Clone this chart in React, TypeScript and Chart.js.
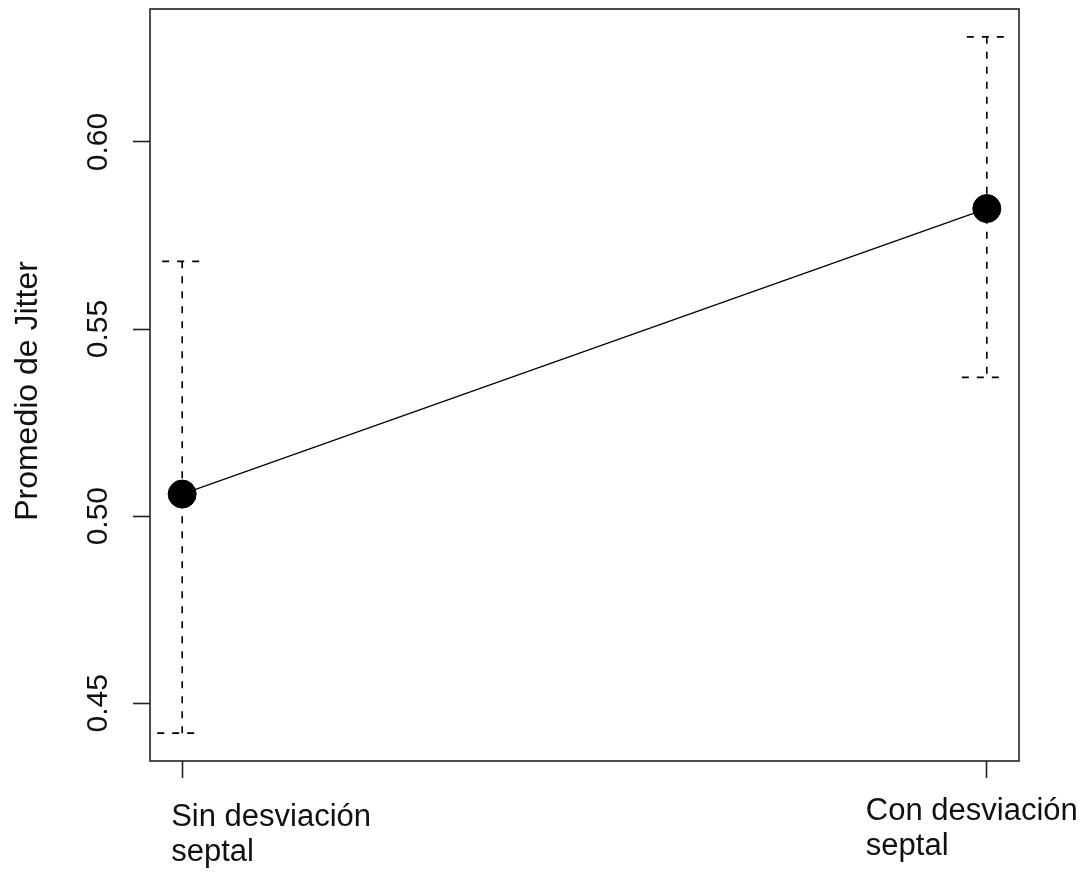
import { useEffect, useRef } from 'react';
import { Chart, registerables } from 'chart.js';

Chart.register(...registerables);

// ---- Data ----
const groupLabels: string[][] = [
  ['Sin desviación', 'septal'],
  ['Con desviación', 'septal'],
];
const groupPositions = [1, 2];
const meanJitter = [0.5059, 0.5822];
const upperBound = [0.5681, 0.6281];
const lowerBound = [0.442, 0.5371];
const yTickValues = [0.45, 0.5, 0.55, 0.6];
const yTickLabels = ['0.45', '0.50', '0.55', '0.60'];
const yAxisTitle = 'Promedio de Jitter';

// ---- Style / layout constants ----
const FONT = '"Liberation Sans", Arial, sans-serif';
const TEXT_COLOR = '#111';
const LINE_COLOR = '#222';
const X_LABEL_OFFSETS = [
  { dx: -11, dy: 0 },
  { dx: -121, dy: -6 },
];

// R-style 4% axis extension computed from the data range
function extend(lo: number, hi: number) {
  const d = (hi - lo) * 0.04;
  return [lo - d, hi + d];
}
const [yMin, yMax] = extend(Math.min(...lowerBound), Math.max(...upperBound));
const [xMin, xMax] = extend(Math.min(...groupPositions), Math.max(...groupPositions));

const errorBarPlugin = {
  id: 'errorBars',
  beforeDatasetsDraw(chart: any) {
    const { ctx, scales } = chart;
    const xs = scales.x;
    const ys = scales.y;
    ctx.save();
    ctx.strokeStyle = '#000';
    ctx.lineWidth = 1.6;
    ctx.setLineDash([7, 8]);
    groupPositions.forEach((gx, i) => {
      const px = xs.getPixelForValue(gx);
      const pTop = ys.getPixelForValue(upperBound[i]);
      const pBot = ys.getPixelForValue(lowerBound[i]);
      ctx.beginPath();
      ctx.moveTo(px, pTop);
      ctx.lineTo(px, pBot);
      ctx.stroke();
      // caps
      ctx.beginPath();
      ctx.moveTo(px - 20, pTop);
      ctx.lineTo(px + 22, pTop);
      ctx.stroke();
      ctx.beginPath();
      ctx.moveTo(px - 25, pBot);
      ctx.lineTo(px + 16, pBot);
      ctx.stroke();
    });
    ctx.restore();
  },
};

const axisTextPlugin = {
  id: 'axisText',
  afterDraw(chart: any) {
    const { ctx, scales, chartArea } = chart;
    const xs = scales.x;
    const ys = scales.y;
    ctx.save();
    // box
    ctx.strokeStyle = LINE_COLOR;
    ctx.lineWidth = 1.6;
    ctx.setLineDash([]);
    ctx.strokeRect(chartArea.left, chartArea.top, chartArea.right - chartArea.left, chartArea.bottom - chartArea.top);

    ctx.fillStyle = TEXT_COLOR;
    // y tick labels (rotated, reading upward)
    ctx.font = `30px ${FONT}`;
    ctx.textAlign = 'center';
    ctx.textBaseline = 'alphabetic';
    yTickValues.forEach((v, i) => {
      const py = ys.getPixelForValue(v);
      ctx.save();
      ctx.translate(chartArea.left - 43, py);
      ctx.rotate(-Math.PI / 2);
      ctx.fillText(yTickLabels[i], 0, 0);
      ctx.restore();
    });

    // y axis title
    ctx.font = `32px ${FONT}`;
    ctx.save();
    ctx.translate(37, (chartArea.top + chartArea.bottom) / 2 + 6);
    ctx.rotate(-Math.PI / 2);
    ctx.textAlign = 'center';
    ctx.fillText(yAxisTitle, 0, 0);
    ctx.restore();

    // x category labels (two lines, left aligned)
    ctx.font = `31px ${FONT}`;
    ctx.textAlign = 'left';
    groupPositions.forEach((gx, i) => {
      const px = xs.getPixelForValue(gx) + X_LABEL_OFFSETS[i].dx;
      const base = chartArea.bottom + 65 + X_LABEL_OFFSETS[i].dy;
      groupLabels[i].forEach((line, j) => {
        ctx.fillText(line, px, base + j * 35);
      });
    });
    ctx.restore();
  },
};

export default function App() {
  const canvasRef = useRef<HTMLCanvasElement | null>(null);

  useEffect(() => {
    const canvas = canvasRef.current;
    if (!canvas) return;
    const chart = new Chart(canvas, {
      type: 'line',
      data: {
        datasets: [
          {
            data: groupPositions.map((x, i) => ({ x, y: meanJitter[i] })),
            borderColor: '#000',
            borderWidth: 1.2,
            pointRadius: 14,
            pointHoverRadius: 14,
            pointBackgroundColor: '#000',
            pointBorderColor: '#000',
            pointBorderWidth: 1,
            fill: false,
            tension: 0,
            clip: false as any,
          },
        ],
      },
      options: {
        animation: false,
        responsive: false,
        events: [],
        layout: { autoPadding: false, padding: { left: 0, top: 9, right: 69, bottom: 0 } },
        plugins: {
          legend: { display: false },
          tooltip: { enabled: false },
          title: { display: false },
        },
        scales: {
          x: {
            type: 'linear',
            min: xMin,
            max: xMax,
            afterBuildTicks: (scale: any) => {
              scale.ticks = groupPositions.map((v) => ({ value: v }));
            },
            afterFit: (scale: any) => {
              scale.height = 112;
            },
            ticks: { display: false },
            border: { display: false },
            grid: {
              display: true,
              drawOnChartArea: false,
              drawTicks: true,
              tickLength: 17,
              tickWidth: 1.6,
              tickColor: LINE_COLOR,
            },
          },
          y: {
            type: 'linear',
            min: yMin,
            max: yMax,
            afterBuildTicks: (scale: any) => {
              scale.ticks = yTickValues.map((v) => ({ value: v }));
            },
            afterFit: (scale: any) => {
              scale.width = 150;
            },
            ticks: { display: false },
            border: { display: false },
            grid: {
              display: true,
              drawOnChartArea: false,
              drawTicks: true,
              tickLength: 17,
              tickWidth: 1.6,
              tickColor: LINE_COLOR,
            },
          },
        },
      },
      plugins: [errorBarPlugin, axisTextPlugin],
    });
    return () => chart.destroy();
  }, []);

  return (
    <div style={{ position: 'fixed', left: 0, top: 0, width: 1088, height: 873, background: '#fff' }}>
      <canvas ref={canvasRef} width={1088} height={873} style={{ width: 1088, height: 873, display: 'block' }} />
    </div>
  );
}
